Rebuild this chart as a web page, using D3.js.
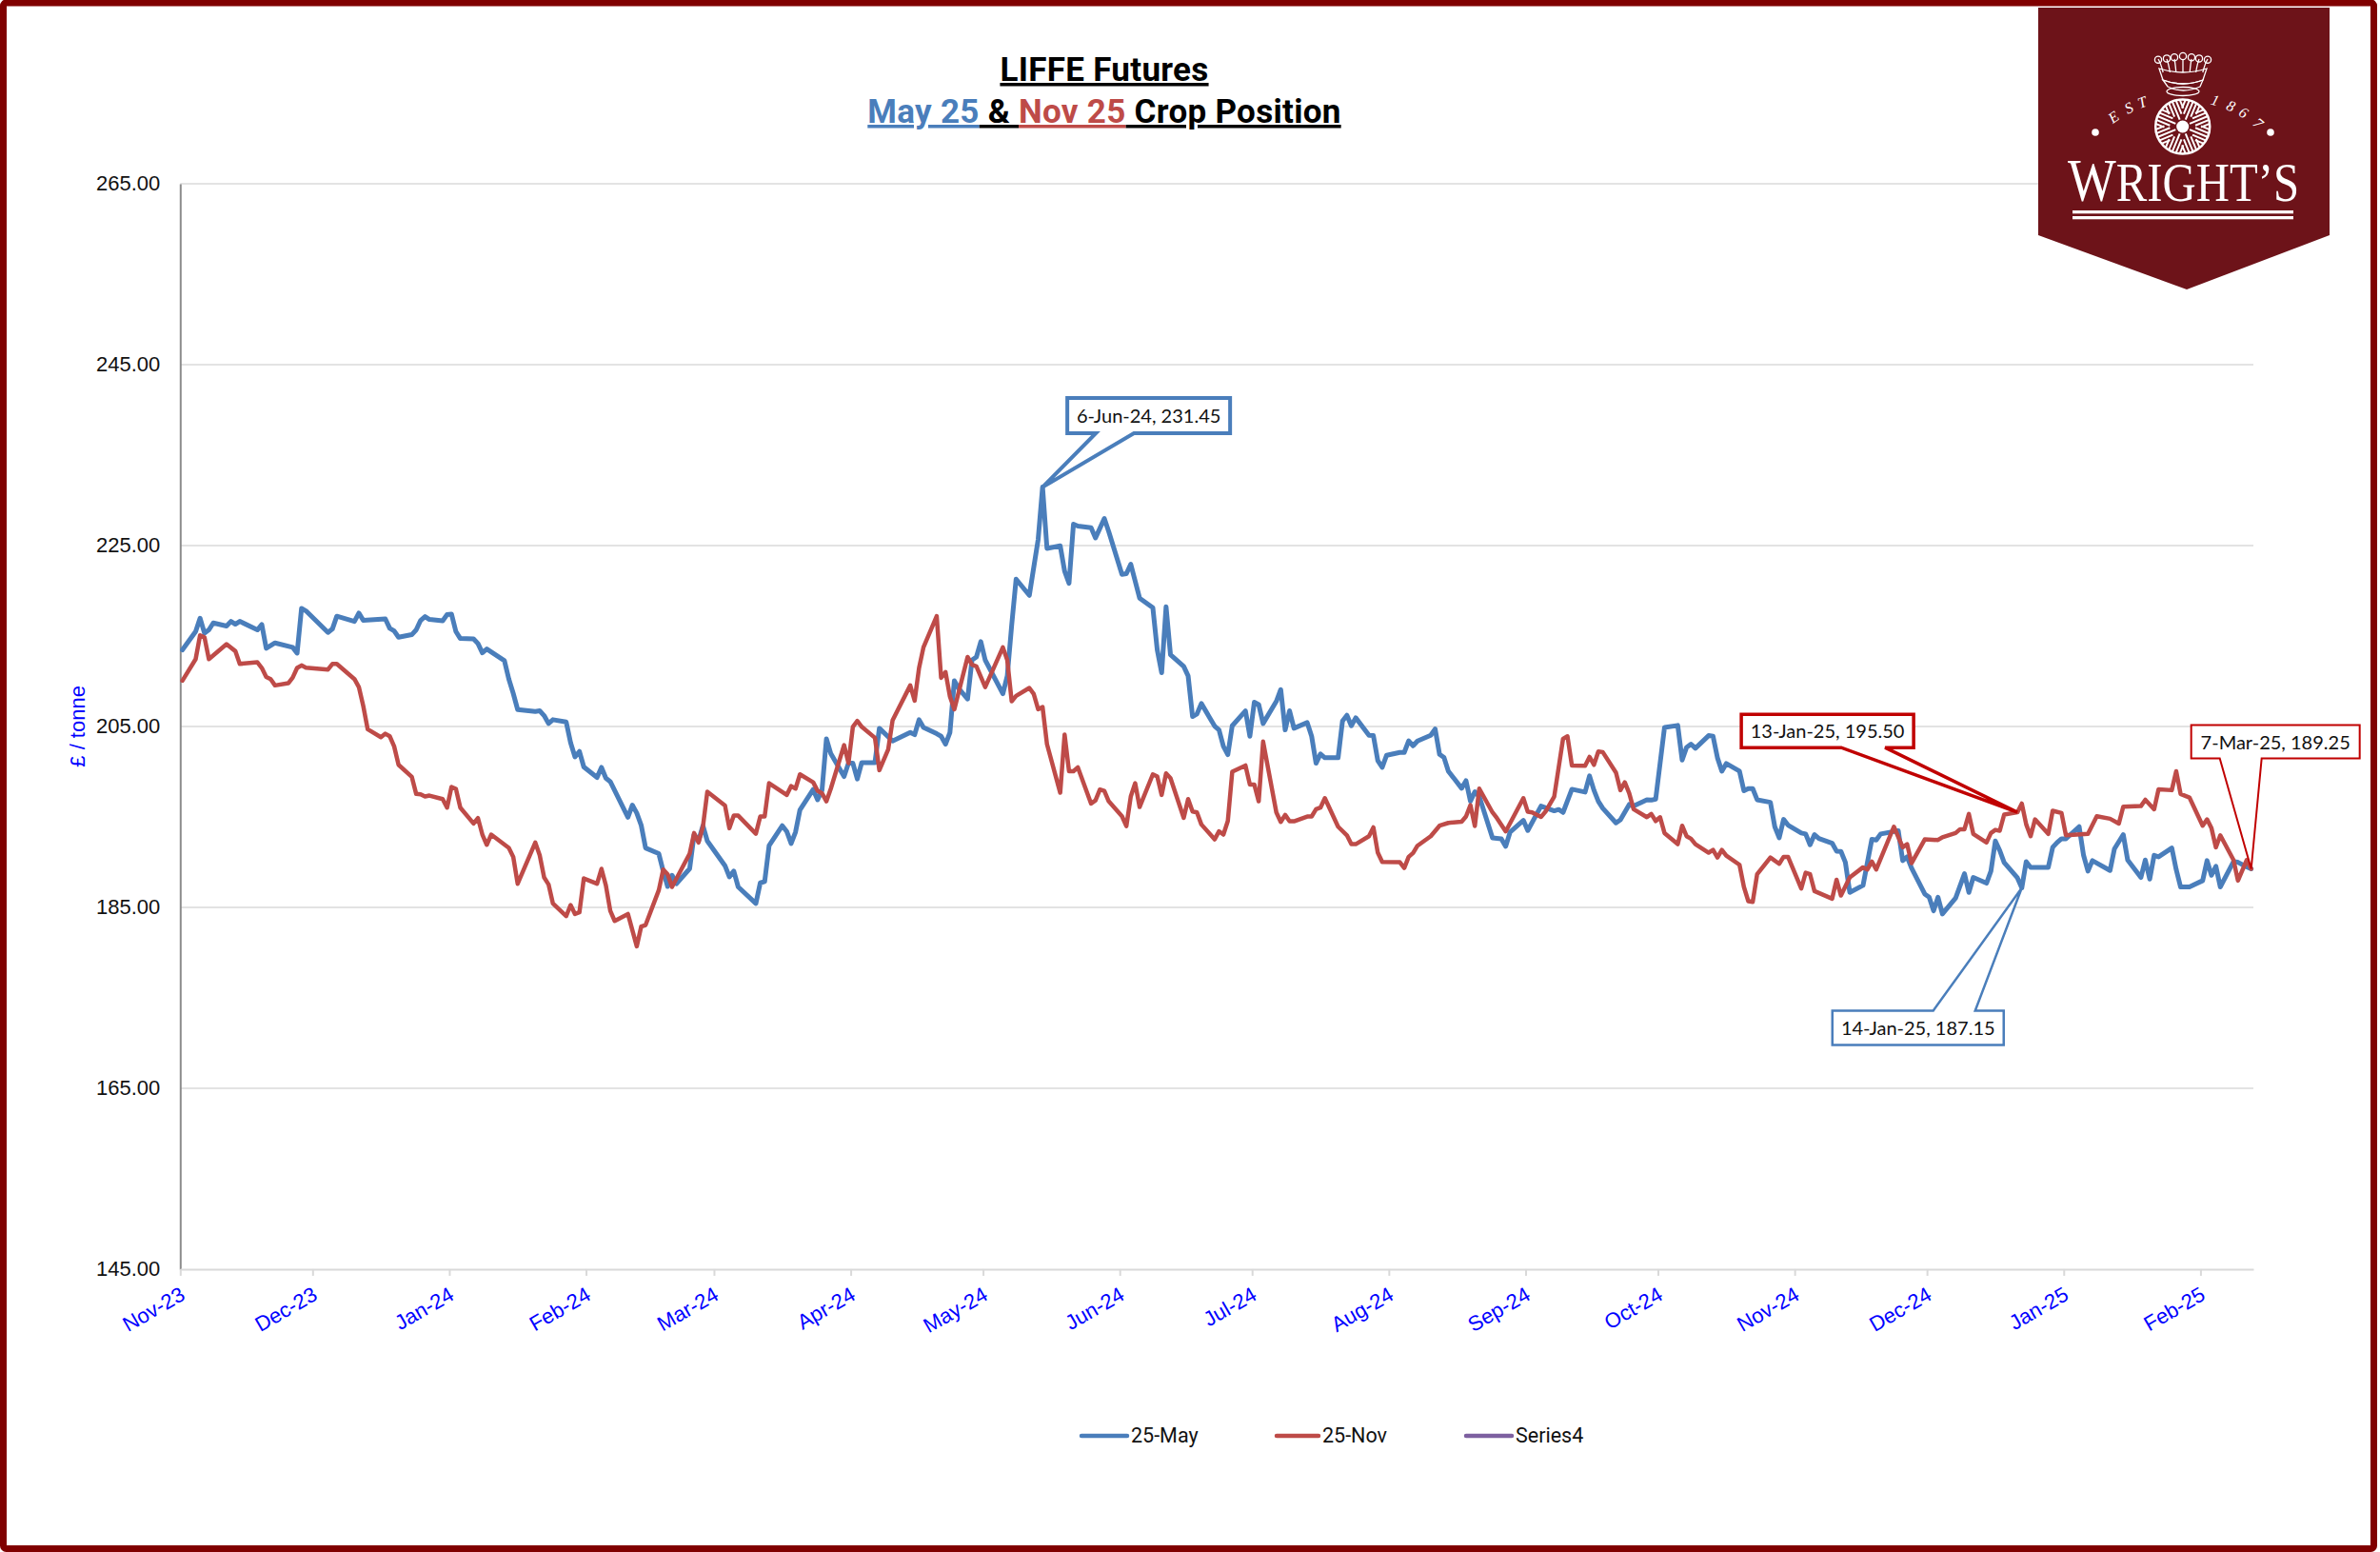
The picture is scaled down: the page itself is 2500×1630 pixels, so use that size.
<!DOCTYPE html>
<html>
<head>
<meta charset="utf-8">
<title>LIFFE Futures</title>
<script src="https://cdn.jsdelivr.net/npm/d3@7"></script>
<style>
html, body { margin: 0; padding: 0; background: #fff; }
svg { display: block; }
</style>
</head>
<body>
<script>
// Days counted from the first trading day, then the price
const firstDay = new Date(Date.UTC(2023, 10, 24));
const may25 = [
  [0,213.46],[3,215.49],[4,216.96],[5,215.32],[6,215.67],[7,216.44],[10,216.09],[11,216.61],[12,216.3],[13,216.61],
  [17,215.67],[18,216.26],[19,213.63],[21,214.23],[25,213.74],[26,213.1],[27,218.05],[28,217.77],[33,215.39],[34,215.77],
  [35,217.18],[39,216.61],[40,217.53],[41,216.72],[46,216.89],[47,215.84],[48,215.56],[49,214.86],[52,215.14],[53,215.67],
  [54,216.72],[55,217.14],[56,216.82],[59,216.68],[60,217.35],[61,217.42],[62,215.49],[63,214.72],[66,214.68],[67,214.16],
  [68,213.14],[69,213.56],[73,212.26],[74,210.23],[75,208.65],[76,206.86],[80,206.65],[81,206.72],[82,206.19],[83,205.32],
  [84,205.74],[87,205.49],[88,203.21],[89,201.63],[90,202.23],[91,200.51],[94,199.35],[95,200.47],[96,199.28],[97,198.89],
  [101,194.96],[102,196.3],[103,195.42],[104,194.09],[105,191.56],[108,190.93],[109,189],[110,187.3],[111,188.54],[112,187.6],
  [115,189.28],[116,193.04],[117,192.33],[118,194.02],[119,192.33],[123,189.6],[124,188.37],[125,189],[126,187.25],[130,185.42],
  [131,187.7],[132,187.84],[133,191.81],[136,194.02],[137,193.39],[138,192.05],[139,193.32],[140,195.77],[143,198.02],[144,196.89],
  [145,197.95],[146,203.63],[147,201.98],[150,199.46],[151,200.93],[152,200.93],[153,199.18],[154,201],[157,201],[158,204.79],
  [161,203.39],[165,204.33],[166,204.09],[167,205.74],[168,204.89],[171,204.19],[172,203.91],[173,203.04],[174,204.33],[175,210.05],
  [176,209.18],[178,208.02],[179,212.33],[180,212.68],[181,214.37],[182,212.33],[186,208.61],[187,210.58],[188,216.19],[189,221.28],
  [192,219.49],[194,225.67],[195,231.45],[196,224.68],[199,224.96],[200,222.16],[201,220.82],[202,227.35],[203,227.14],[206,226.96],
  [207,225.84],[209,227.98],[210,226.54],[213,221.81],[214,221.88],[215,222.93],[217,219.18],[220,218.12],[221,213.46],[222,210.93],
  [223,218.23],[224,212.93],[227,211.63],[228,210.58],[229,206.09],[230,206.37],[231,207.53],[234,205.04],[235,204.61],[236,202.79],
  [237,201.88],[238,205.07],[241,206.72],[242,203.91],[243,207.67],[244,207.42],[245,205.32],[248,207.77],[249,209.07],[250,204.61],
  [251,206.72],[252,204.79],[255,205.42],[256,203.91],[257,200.93],[258,201.95],[259,201.53],[262,201.53],[263,205.6],[264,206.23],
  [265,205.07],[266,205.95],[269,204.02],[270,203.98],[271,201.21],[272,200.47],[273,201.81],[276,202.12],[277,202.12],[278,203.39],
  [279,202.86],[280,203.39],[283,204.02],[284,204.72],[285,201.91],[286,201.56],[287,200.05],[290,198.16],[291,199],[292,196.72],
  [293,197.77],[294,197.25],[297,192.68],[299,192.58],[300,191.74],[301,193.32],[304,194.61],[305,193.49],[308,196.19],[311,195.67],
  [312,195.81],[313,195.49],[315,198.05],[318,197.74],[319,199.53],[320,197.95],[321,196.72],[322,195.95],[325,194.33],[326,194.68],
  [328,196.37],[329,196.19],[332,196.89],[333,196.85],[334,196.96],[336,204.89],[339,205.11],[340,201.28],[341,202.68],[342,203.04],
  [343,202.58],[346,203.98],[347,203.91],[348,201.53],[349,200.05],[350,200.89],[353,200.05],[354,197.88],[355,198.12],[356,198.12],
  [357,196.89],[360,196.61],[361,193.91],[362,192.68],[363,194.72],[364,194.09],[367,193.21],[368,193.11],[369,191.91],[370,193.04],
  [371,192.61],[374,192.09],[375,191.21],[376,191.18],[377,189.98],[378,186.65],[381,187.42],[383,192.51],[384,192.44],[385,193.11],
  [389,193.46],[390,190.16],[391,190.58],[392,189.35],[395,186.47],[396,186.12],[397,184.61],[398,186.12],[399,184.26],[402,186.02],
  [404,188.72],[405,186.65],[406,188.3],[409,187.67],[410,189],[411,192.33],[412,191.28],[413,189.95],[416,188.26],[417,187.15],
  [418,190.05],[419,189.42],[423,189.42],[424,191.63],[425,192.16],[426,192.58],[427,192.58],[430,193.91],[431,190.75],[432,189],
  [433,190.16],[437,189.07],[438,191.46],[440,193.04],[441,190.23],[444,188.3],[445,190.23],[446,188.12],[447,190.75],[448,190.58],
  [451,191.56],[452,189.18],[453,187.25],[455,187.25],[458,187.95],[459,190.16],[460,188.54],[461,189.53],[462,187.25],[465,190.05],
  [466,189.98],[468,189.46],[469,189.25]
];
const nov25 = [
  [0,210.05],[3,212.44],[4,215.07],[5,214.86],[6,212.44],[10,214.09],[12,213.32],[13,211.91],[17,212.09],[18,211.46],
  [19,210.47],[20,210.23],[21,209.53],[24,209.77],[25,210.4],[26,211.46],[27,211.74],[28,211.49],[33,211.28],[34,211.91],
  [35,211.91],[39,210.23],[40,209.35],[41,207.25],[42,204.68],[45,203.81],[46,204.19],[47,203.91],[48,202.79],[49,200.75],
  [52,199.42],[53,197.53],[54,197.49],[55,197.25],[56,197.35],[59,196.96],[60,196.02],[61,198.3],[62,198.09],[63,196.02],
  [66,194.26],[67,194.86],[68,193.04],[69,191.91],[70,193.04],[74,191.56],[75,190.58],[76,187.6],[80,192.16],[81,190.75],
  [82,188.3],[83,187.53],[84,185.42],[87,184.02],[88,185.25],[89,184.26],[90,184.44],[91,188.19],[94,187.6],[95,189.25],
  [96,187.42],[97,184.61],[98,183.49],[101,184.26],[103,180.68],[104,182.86],[105,183.04],[108,186.9],[109,189.18],[110,188.65],
  [111,187.25],[115,190.93],[116,193.21],[117,192.16],[118,193.91],[119,197.77],[123,196.26],[124,193.74],[125,195.14],[126,195.14],
  [130,193.14],[131,195.04],[132,195.04],[133,198.72],[137,197.42],[138,198.4],[139,198.12],[140,199.7],[143,198.82],[144,197.88],
  [145,197.6],[146,196.72],[147,198.12],[150,202.93],[151,200.93],[152,204.96],[153,205.6],[154,204.96],[157,203.74],[158,200.16],
  [160,202.44],[161,205.67],[165,209.53],[166,207.84],[167,211.46],[168,213.74],[171,217.18],[172,210.37],[173,211],[174,208.3],
  [175,206.89],[178,212.68],[179,211.81],[180,211.63],[182,209.35],[186,213.74],[187,212.33],[188,207.77],[189,208.37],[192,209.25],
  [193,208.58],[194,206.89],[195,207.14],[196,203.04],[199,197.67],[200,204.09],[201,200.05],[202,200.05],[203,200.47],[206,196.47],
  [207,196.82],[208,198.02],[209,197.88],[210,196.72],[213,195.07],[214,193.98],[215,197.25],[216,198.72],[217,196.09],[220,199.7],
  [221,199.46],[222,197.42],[223,199.81],[224,199.28],[227,194.89],[228,196.96],[229,195.6],[230,195.49],[231,194.16],[234,192.51],
  [235,193.39],[236,193.04],[237,194.54],[238,199.98],[241,200.68],[242,198.58],[243,198.58],[244,196.72],[245,203.32],[248,195.49],
  [249,194.44],[250,195.21],[251,194.51],[252,194.51],[255,195.04],[256,195.04],[257,195.84],[258,196.02],[259,197.07],[262,193.91],
  [264,192.96],[265,191.98],[266,191.98],[269,192.86],[270,193.84],[271,191.04],[272,190.02],[276,189.98],[277,189.35],[278,190.58],
  [279,191],[280,191.81],[283,192.86],[285,194.02],[287,194.33],[290,194.47],[291,195.04],[292,196.3],[293,193.98],[294,198.12],
  [297,195.49],[298,194.86],[300,193.39],[304,197.07],[305,195.56],[306,195.49],[308,195],[309,195.56],[311,197.25],[313,203.63],
  [314,203.91],[315,200.68],[318,200.65],[319,201.63],[320,200.75],[321,202.23],[322,202.16],[325,199.88],[326,197.95],[327,198.82],
  [328,197.6],[329,195.84],[332,194.96],[333,195.32],[334,194.54],[335,194.96],[336,193.21],[339,191.98],[340,194.02],[341,192.86],
  [342,192.58],[343,191.98],[346,191.04],[347,191.35],[348,190.51],[349,191.35],[350,190.72],[353,189.7],[354,187.25],[355,185.67],
  [356,185.6],[357,188.65],[360,190.51],[362,189.81],[363,190.58],[364,190.58],[367,187.07],[368,188.82],[369,188.65],[370,186.79],
  [374,185.95],[375,188.05],[376,186.3],[378,188.3],[381,189.42],[382,189.18],[383,190.05],[384,189.18],[388,193.91],[390,191.63],
  [391,191.98],[392,189.88],[395,192.51],[398,192.44],[399,192.75],[402,193.21],[403,193.63],[404,193.63],[405,195.32],[406,193.11],
  [409,192.16],[410,193.21],[411,193.56],[412,193.46],[413,195.25],[416,195.5],[417,196.47],[418,194.16],[419,192.86],[420,194.72],
  [423,193.11],[424,195.67],[426,195.42],[427,192.96],[432,193.11],[434,195.07],[437,194.79],[439,194.26],[440,196.12],[444,196.19],
  [445,196.89],[447,195.84],[448,198.05],[451,197.95],[452,200.05],[453,197.53],[455,197.14],[458,194.02],[459,194.72],[460,193.74],
  [461,191.63],[462,192.96],[465,190.23],[466,187.95],[468,190.23],[469,189.25]
];
const yTicks = [145, 165, 185, 205, 225, 245, 265];
const legendNames = ['25-May', '25-Nov', 'Series4'];
const legendColors = ['#4a7ebb', '#be4b48', '#7d60a0'];
const estLetters = ['E', 'S', 'T', '1', '8', '6', '7'];

const width = 2500, height = 1630;
const plotLeft = 189.3, plotRight = 2367, plotTop = 192.9, plotBottom = 1332.9;

const svg = d3.select('body').append('svg')
    .attr('width', width)
    .attr('height', height)
    .attr('viewBox', [0, 0, width, height]);

svg.append('rect').attr('width', width).attr('height', height).attr('fill', '#fff');

const lastDay = d3.utcDay.offset(firstDay, 470);
const x = d3.scaleUtc().domain([firstDay, lastDay]).range([plotLeft, plotRight]);
const y = d3.scaleLinear().domain([145, 265]).range([plotBottom, plotTop]);

// Points sit in the middle of their day slot
const dayX = d => x(d3.utcHour.offset(firstDay, d * 24 + 12));

// Grid
svg.append('g')
    .selectAll('line')
    .data(yTicks.slice(1))
    .join('line')
    .attr('x1', plotLeft)
    .attr('x2', plotRight)
    .attr('y1', d => y(d))
    .attr('y2', d => y(d))
    .style('stroke', '#e3e3e3')
    .style('stroke-width', 2);

// Axes
const yAxis = svg.append('g')
    .attr('transform', `translate(${plotLeft},0)`)
    .call(d3.axisLeft(y).tickValues(yTicks).tickFormat(d3.format('.2f')).tickSize(0).tickPadding(21));
yAxis.select('.domain').style('stroke', '#8c8c8c').style('stroke-width', 2);
yAxis.selectAll('text')
    .style('font', '22px "Liberation Sans"')
    .style('fill', '#111');

// Ticks fall on the 24th, one month apart from the first day
const monthTicks = d3.range(16).map(i => d3.utcMonth.offset(firstDay, i));
const xAxis = svg.append('g')
    .attr('transform', `translate(0,${plotBottom})`)
    .call(d3.axisBottom(x)
        .tickValues(monthTicks)
        .tickFormat(d3.utcFormat('%b-%y'))
        .tickSize(7)
        .tickSizeOuter(0));
xAxis.select('.domain').style('stroke', '#d9d9d9').style('stroke-width', 2);
xAxis.selectAll('.tick line').style('stroke', '#d9d9d9').style('stroke-width', 2);
xAxis.selectAll('.tick text')
    .attr('x', 0)
    .attr('y', 0)
    .attr('dy', 0)
    .attr('text-anchor', 'end')
    .attr('transform', 'translate(6,31) rotate(-30)')
    .style('font', '22px "Liberation Sans"')
    .style('fill', '#0000ff');

svg.append('text')
    .attr('transform', `translate(89,${y(205)}) rotate(-90)`)
    .attr('text-anchor', 'middle')
    .style('font', '22px "Liberation Sans"')
    .style('fill', '#0000ff')
    .text('£ / tonne');

// Lines
const line = d3.line()
    .x(d => dayX(d[0]))
    .y(d => y(d[1]));

svg.append('path')
    .datum(may25)
    .attr('d', line)
    .style('fill', 'none')
    .style('stroke', legendColors[0])
    .style('stroke-width', 5)
    .style('stroke-linejoin', 'round')
    .style('stroke-linecap', 'round');

svg.append('path')
    .datum(nov25)
    .attr('d', line)
    .style('fill', 'none')
    .style('stroke', legendColors[1])
    .style('stroke-width', 4.5)
    .style('stroke-linejoin', 'round')
    .style('stroke-linecap', 'round');

// Data callouts, box placed relative to the point they mark
function callout(series, day, label, color, strokeWidth, dx, dy, w, h, w0, w1) {
    const point = series.find(d => d[0] === day);
    const px = dayX(point[0]), py = y(point[1]);
    const bx = px + dx, by = py + dy;
    const below = dy > 0;
    const edge = below ? by : by + h;
    const p = d3.path();
    p.moveTo(bx, by);
    if (below) {
        p.lineTo(bx + w0, by);
        p.lineTo(px, py);
        p.lineTo(bx + w1, by);
    }
    p.lineTo(bx + w, by);
    p.lineTo(bx + w, by + h);
    if (!below) {
        p.lineTo(bx + w1, edge);
        p.lineTo(px, py);
        p.lineTo(bx + w0, edge);
    }
    p.lineTo(bx, by + h);
    p.closePath();
    svg.append('path')
        .attr('d', p.toString())
        .style('fill', '#fff')
        .style('stroke', color)
        .style('stroke-width', strokeWidth);
    svg.append('text')
        .attr('x', bx + w / 2)
        .attr('y', by + h / 2 + 7.5)
        .attr('text-anchor', 'middle')
        .style('font', '20px Lato')
        .style('fill', '#111')
        .text(label);
}
callout(may25, 195, '6-Jun-24, 231.45', '#4a7ebb', 4, 26, -93.6, 171, 37, 30, 70);
callout(nov25, 416, '13-Jan-25, 195.50', '#c00000', 3.5, -290, -103, 181, 35, 105, 151);
callout(may25, 417, '14-Jan-25, 187.15', '#4a7ebb', 2.5, -199, 129, 180, 36, 106, 150);
callout(nov25, 469, '7-Mar-25, 189.25', '#c00000', 2, -63, -151, 177, 35, 30, 74);

// Title
const title = svg.append('g')
    .attr('text-anchor', 'middle')
    .style('font', '700 35px Roboto')
    .style('letter-spacing', '0.3px');
title.append('text')
    .attr('x', 1160)
    .attr('y', 85)
    .style('text-decoration', 'underline')
    .text('LIFFE Futures');
const subtitle = title.append('text').attr('x', 1160).attr('y', 129);
subtitle.append('tspan').style('fill', legendColors[0]).style('text-decoration', 'underline').text('May 25');
subtitle.append('tspan').style('text-decoration', 'underline').text(' & ');
subtitle.append('tspan').style('fill', legendColors[1]).style('text-decoration', 'underline').text('Nov 25');
subtitle.append('tspan').style('text-decoration', 'underline').text(' Crop Position');

// Legend
const legendX = [1136, 1341, 1540];
const legendW = [48, 44, 48];
const legend = svg.append('g')
    .selectAll('g')
    .data(legendNames)
    .join('g');
legend.append('line')
    .attr('x1', (d, i) => legendX[i])
    .attr('x2', (d, i) => legendX[i] + legendW[i])
    .attr('y1', 1508)
    .attr('y2', 1508)
    .style('stroke', (d, i) => legendColors[i])
    .style('stroke-width', 4.5)
    .style('stroke-linecap', 'round');
legend.append('text')
    .attr('x', (d, i) => legendX[i] + legendW[i] + 4)
    .attr('y', 1515)
    .style('font', '21.5px Roboto')
    .style('fill', '#111')
    .text(d => d);

// Logo
const logo = svg.append('g');
logo.append('path')
    .attr('d', 'M2141,8H2447V247L2297,304L2141,247Z')
    .style('fill', '#6d1319');

// Wheel: eight sectors of parallel spokes
const wheel = logo.append('g').attr('transform', 'translate(2292.7,133)');
wheel.append('circle').attr('r', 28.5).style('fill', 'none').style('stroke', '#fff').style('stroke-width', 2.5);
const sector = wheel.selectAll('g')
    .data(d3.range(8))
    .join('g')
    .attr('transform', d => `rotate(${d * 45 + 22.5})`);
sector.selectAll('line')
    .data([-8, -4, 0, 4, 8])
    .join('line')
    .attr('x1', d => 8 + Math.abs(d) * 1.2)
    .attr('x2', d => Math.sqrt(28 * 28 - d * d))
    .attr('y1', d => d)
    .attr('y2', d => d)
    .style('stroke', '#fff')
    .style('stroke-width', 2);
wheel.append('circle').attr('r', 6.5).style('fill', '#fff');

logo.selectAll('circle.dot')
    .data([2201, 2385])
    .join('circle')
    .attr('class', 'dot')
    .attr('cx', d => d)
    .attr('cy', 139)
    .attr('r', 3.8)
    .style('fill', '#fff');

// Est letters fan out above the wheel
const estAngle = [-35.5, -26.8, -19.7, 16.4, 24.5, 31.5, 40.2];
logo.selectAll('text.est')
    .data(estLetters)
    .join('text')
    .attr('class', 'est')
    .attr('transform', (d, i) => `translate(2292,224) rotate(${estAngle[i]}) translate(0,-118.5)`)
    .attr('text-anchor', 'middle')
    .style('font', 'italic 16px "Liberation Serif"')
    .style('fill', '#fff')
    .text(d => d);

const crown = logo.append('g')
    .style('fill', 'none')
    .style('stroke', '#fff')
    .style('stroke-width', 1.3);
crown.append('path').attr('d', 'M2272,84Q2293,92 2314,84L2318,72Q2293,80 2268,72Z');
crown.append('path').attr('d', 'M2277,91Q2293,99 2311,91L2314,84Q2293,92 2272,84Z');
crown.append('ellipse').attr('cx', 2293).attr('cy', 96).attr('rx', 17).attr('ry', 4.5);
crown.selectAll('path.arm')
    .data([-26, -17, -9, 0, 9, 17, 26])
    .join('path')
    .attr('class', 'arm')
    .attr('d', d => `M${2293 + d * 0.8},76Q${2293 + d * 0.9},66 ${2293 + d},62`);
crown.selectAll('circle')
    .data([-26, -17, -9, 0, 9, 17, 26])
    .join('circle')
    .attr('cx', d => 2293 + d)
    .attr('cy', d => 59 + Math.abs(d) * 0.14)
    .attr('r', 3.6);

logo.append('text')
    .attr('x', 2172)
    .attr('y', 211)
    .attr('textLength', 243)
    .attr('lengthAdjust', 'spacingAndGlyphs')
    .style('font', '58px "Liberation Serif"')
    .style('fill', '#fff')
    .html('<tspan style="font-size:64px">W</tspan>RIGHT’S');
logo.selectAll('rect.rule')
    .data([221, 227])
    .join('rect')
    .attr('class', 'rule')
    .attr('x', 2177)
    .attr('y', d => d)
    .attr('width', 232)
    .attr('height', 3.3)
    .style('fill', '#fff');

// Frame
svg.append('rect')
    .attr('x', 3.5)
    .attr('y', 3)
    .attr('width', 2490)
    .attr('height', 1623.5)
    .attr('rx', 3)
    .style('fill', 'none')
    .style('stroke', '#800000')
    .style('stroke-width', 7);
</script>
</body>
</html>
